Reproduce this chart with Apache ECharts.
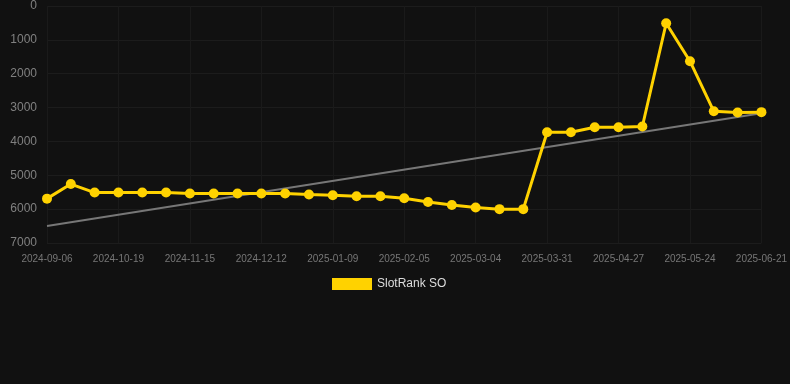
<!DOCTYPE html>
<html>
<head>
<meta charset="utf-8">
<script src="https://cdn.jsdelivr.net/npm/echarts@6/dist/echarts.min.js"></script>
<style>
  html, body { margin: 0; padding: 0; background: #111111; }
  #chart { width: 790px; height: 384px; }
</style>
</head>
<body>
<div id="chart"></div>
<script>
  // dates on the x axis (category), every third one is labelled
  const dates = [
    '2024-09-06', '2024-09-21', '2024-10-05', '2024-10-19', '2024-10-28', '2024-11-06',
    '2024-11-15', '2024-11-24', '2024-12-03', '2024-12-12', '2024-12-21', '2024-12-31',
    '2025-01-09', '2025-01-18', '2025-01-27', '2025-02-05', '2025-02-14', '2025-02-23',
    '2025-03-04', '2025-03-13', '2025-03-22', '2025-03-31', '2025-04-09', '2025-04-18',
    '2025-04-27', '2025-05-06', '2025-05-15', '2025-05-24', '2025-06-02', '2025-06-11',
    '2025-06-21'
  ];
  const rankSO = [
    5690, 5260, 5510, 5510, 5510, 5510, 5540, 5540, 5540, 5540, 5540, 5570,
    5590, 5620, 5620, 5680, 5790, 5880, 5950, 6000, 6000, 3730, 3730, 3580,
    3580, 3560, 510, 1630, 3110, 3145, 3135
  ];
  // trend line end points (first and last category)
  const trend = [[0, 6500], [30, 3170]];
  const yTicks = { min: 0, max: 7000, interval: 1000 };

  const myChart = echarts.init(document.getElementById('chart'));
  const option = {
    backgroundColor: '#111111',
    animation: false,
    grid: {
      left: 47,
      right: 28,
      top: 6,
      bottom: 141
    },
    legend: {
      data: ['SlotRank SO'],
      top: 273,
      left: 327,
      itemWidth: 40,
      itemHeight: 12,
      itemGap: 10,
      icon: 'rect',
      textStyle: { color: '#dddddd', fontSize: 12 }
    },
    xAxis: {
      type: 'category',
      data: dates,
      boundaryGap: false,
      axisLine: { show: false },
      axisTick: { show: false },
      axisLabel: {
        interval: 2,
        color: '#777777',
        fontSize: 10,
        margin: 11
      },
      splitLine: {
        show: true,
        interval: 2,
        lineStyle: { color: '#1a1a1a' }
      }
    },
    yAxis: {
      type: 'value',
      inverse: true,
      min: yTicks.min,
      max: yTicks.max,
      interval: yTicks.interval,
      axisLine: { show: false },
      axisTick: { show: false },
      axisLabel: {
        color: '#808080',
        fontSize: 12,
        margin: 10,
        formatter: (v) => String(v)
      },
      splitLine: { lineStyle: { color: '#1c1c1c' } }
    },
    series: [
      {
        name: 'trend',
        type: 'line',
        data: trend,
        symbol: 'none',
        silent: true,
        lineStyle: { color: '#777777', width: 2 },
        z: 1
      },
      {
        name: 'SlotRank SO',
        type: 'line',
        data: rankSO,
        symbol: 'circle',
        symbolSize: 10,
        itemStyle: { color: '#FFD200' },
        lineStyle: { color: '#FFD200', width: 3 },
        z: 2
      }
    ]
  };
  myChart.setOption(option);
</script>
</body>
</html>
